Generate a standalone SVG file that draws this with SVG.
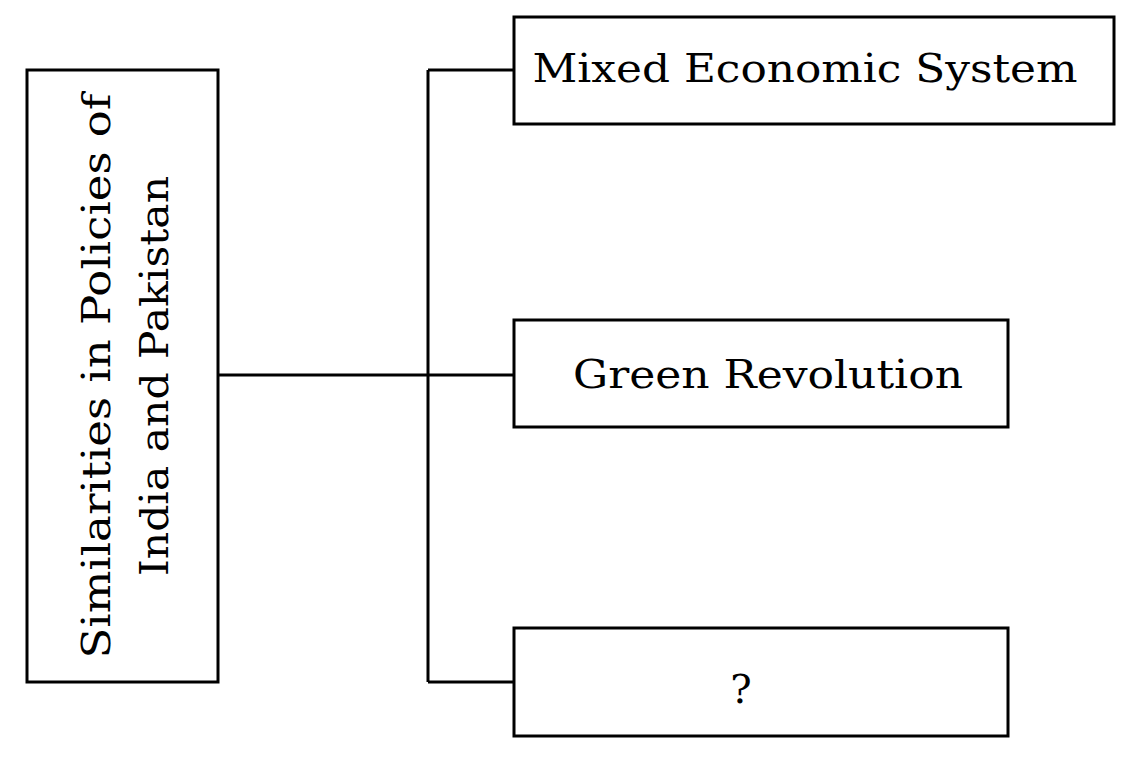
<svg xmlns="http://www.w3.org/2000/svg" width="1141" height="761" viewBox="0 0 1141 761">
<style>
.b{fill:#fff;stroke:#000;stroke-width:3}
.c{fill:none;stroke:#000;stroke-width:3}
text{font-family:"DejaVu Serif","Liberation Serif",serif;font-size:40px;fill:#000}
</style>
<rect width="1141" height="761" fill="#fff"/>
<g id="connectors">
<path class="c" d="M215 375H514M428 70V682M428 70H514M428 682H514"/>
</g>
<g id="main">
<rect class="b" x="27" y="70" width="191" height="612"/>
<text transform="translate(110 376) rotate(-90)" text-anchor="middle" textLength="565" lengthAdjust="spacingAndGlyphs">Similarities in Policies of</text>
<text transform="translate(168 376) rotate(-90)" text-anchor="middle" textLength="400" lengthAdjust="spacingAndGlyphs">India and Pakistan</text>
</g>
<g id="n1">
<rect class="b" x="514" y="17" width="600" height="107"/>
<text x="805" y="82" text-anchor="middle" textLength="545" lengthAdjust="spacingAndGlyphs">Mixed Economic System</text>
</g>
<g id="n2">
<rect class="b" x="514" y="320" width="494" height="107"/>
<text x="768" y="388" text-anchor="middle" textLength="390" lengthAdjust="spacingAndGlyphs">Green Revolution</text>
</g>
<g id="n3">
<rect class="b" x="514" y="628" width="494" height="108"/>
<text x="741" y="703" text-anchor="middle">?</text>
</g>
</svg>
